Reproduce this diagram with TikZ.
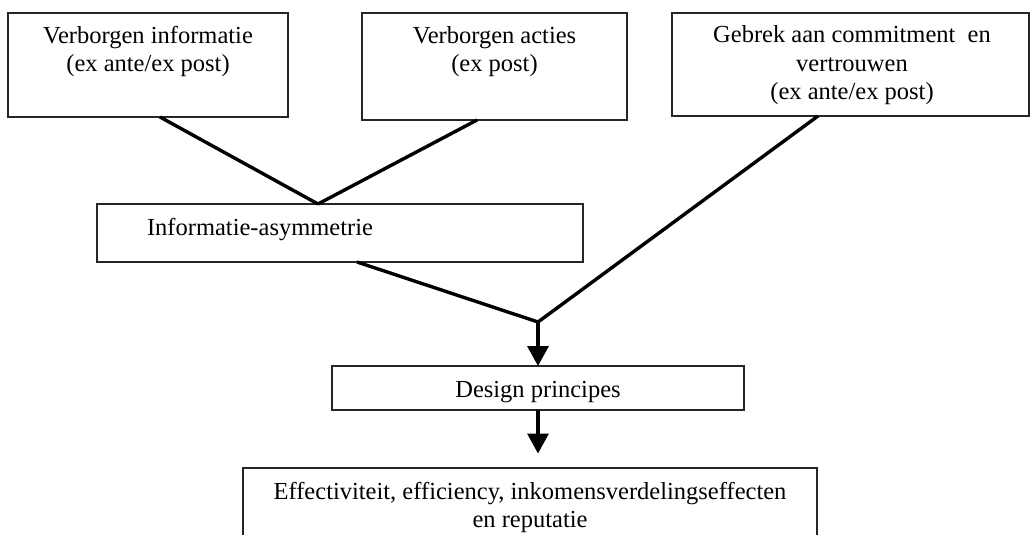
\documentclass[tikz,border=0pt]{standalone}
\usepackage{fontspec}
\setmainfont{Liberation Serif}
\usetikzlibrary{arrows.meta,calc}
\begin{document}
\begin{tikzpicture}[x=1pt,y=-1pt,
  box/.style={draw=black!85, line width=1.1pt, rectangle, inner sep=0pt, outer sep=0pt, anchor=north west, fill=none},
  txt/.style={inner sep=0pt, outer sep=0pt, anchor=base, align=center, font=\fontsize{24.5}{28.3}\selectfont},
  conn/.style={line width=3.4pt, black},
  arr/.style={line width=3.4pt, black, -{Triangle[width=21pt,length=20pt]}}
]
\useasboundingbox (0,0) rectangle (1030,535);
\clip (0,0) rectangle (1030,535);

% boxes
\node[box, minimum width=280pt, minimum height=104pt] (b1) at (8,13) {};
\node[box, minimum width=265pt, minimum height=107pt] (b2) at (362,13) {};
\node[box, minimum width=357pt, minimum height=103pt] (b3) at (672,13) {};
\node[box, minimum width=486pt, minimum height=58pt] (b4) at (97,204) {};
\node[box, minimum width=412pt, minimum height=44pt] (b5) at (332,366) {};
\node[box, minimum width=574pt, minimum height=100pt] (b6) at (243,468) {};

% texts (anchor = baseline of the last line)
\node[txt] (t1) at (148,71.3) {Verborgen informatie\\(ex ante/ex post)};
\node[txt] (t2) at (494.5,71.3) {Verborgen acties\\(ex post)};
\node[txt] (t3) at (852,99.6) {Gebrek aan commitment\ \ en\\vertrouwen\\(ex ante/ex post)};
\node[txt] (t4) at (260,235) {Informatie-asymmetrie};
\node[txt] (t5) at (538,397) {Design principes};
\node[txt] (t6) at (530,527.3) {Effectiviteit, efficiency, inkomensverdelingseffecten\\en reputatie};

% junction and free end
\coordinate (j) at (538,322);
\coordinate (e) at (538,453.5);

% connectors
\draw[conn] ([xshift=12pt]b1.south) -- ([xshift=-22pt]b4.north);
\draw[conn] ([xshift=-17.5pt]b2.south) -- ([xshift=-22pt]b4.north);
\draw[conn] ([xshift=-32.5pt]b3.south) -- (j);
\draw[conn] ([xshift=17pt]b4.south) -- (j);
\draw[arr] (j) -- (b5.north);
\draw[arr] (b5.south) -- (e);
\end{tikzpicture}
\end{document}
